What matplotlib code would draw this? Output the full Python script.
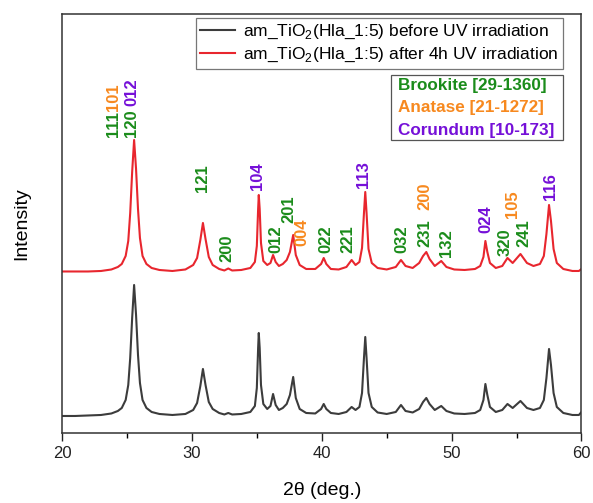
import matplotlib
matplotlib.use("Agg")
import matplotlib.pyplot as plt
from matplotlib.patches import Rectangle

plt.rcParams['font.family'] = ['Liberation Sans', 'DejaVu Sans']
plt.rcParams['mathtext.fontset'] = 'custom'
plt.rcParams['mathtext.rm'] = 'Liberation Sans'

# difractogramas (2theta, intensidad relativa)
dos_theta = [20.0, 21.0, 22.0, 23.0, 23.8, 24.3, 24.6, 24.9, 25.1, 25.25,
             25.4, 25.55, 25.7, 25.85, 26.0, 26.2, 26.5, 26.9, 27.5, 28.5,
             29.5, 30.1, 30.4, 30.65, 30.85, 31.05, 31.3, 31.6, 32.1, 32.5,
             32.8, 33.1, 33.8, 34.5, 34.85, 35.0, 35.1, 35.15, 35.22, 35.32,
             35.5, 35.8, 36.05, 36.25, 36.45, 36.7, 37.0, 37.3, 37.55, 37.8,
             38.0, 38.3, 38.8, 39.5, 39.95, 40.15, 40.35, 40.7, 41.3, 41.9,
             42.3, 42.6, 42.9, 43.1, 43.25, 43.35, 43.45, 43.6, 43.85, 44.3,
             45.0, 45.7, 46.1, 46.45, 47.0, 47.5, 47.8, 48.05, 48.3, 48.7,
             49.2, 49.6, 50.2, 51.0, 51.8, 52.2, 52.45, 52.6, 52.75, 52.95,
             53.4, 53.9, 54.3, 54.7, 55.3, 55.8, 56.3, 56.8, 57.1, 57.3,
             57.5, 57.65, 57.85, 58.1, 58.6, 59.3, 59.8, 60.0]
int_antes = [17, 17, 17.5, 18, 19.5, 22, 25, 33, 48, 75,
             115, 148, 118, 78, 50, 33, 25, 21, 19, 18,
             19, 23, 30, 47, 64, 48, 31, 24, 20, 18.5,
             20, 18.5, 19, 21, 27, 45, 85, 100, 85, 48,
             29, 24, 27, 39, 28, 23, 25, 29, 38, 56,
             35, 24, 20, 19.5, 24, 29, 24, 20, 19, 21,
             26, 23, 26, 40, 75, 96, 75, 40, 26, 20.5,
             19, 21, 28, 22, 20.5, 24, 31, 35, 29, 23,
             27, 22, 19.5, 19, 20, 23, 33, 49, 38, 26,
             21, 23, 29, 25, 32, 25, 23, 25, 33, 55,
             84, 68, 40, 26, 20, 18, 18, 21]
int_despues = [17.5, 17.5, 17.5, 18, 19.5, 22, 25, 33, 48, 76,
               117, 149, 120, 80, 51, 33, 25, 21, 19, 18,
               19.5, 24, 31, 49, 66, 50, 32, 24, 20, 18.5,
               20.5, 18.5, 19, 21, 27, 43, 80, 94, 80, 46,
               28, 24, 26, 34, 27, 23, 25, 29, 37, 54,
               34, 24, 20, 20, 25, 31, 25, 20, 19.5, 22,
               29, 24, 27, 41, 76, 97, 76, 40, 26, 21,
               19.5, 22, 29, 23, 21, 26, 33, 37, 30, 23,
               28, 22, 19.5, 19, 20, 23, 32, 48, 37, 26,
               21, 23, 31, 26, 35, 26, 23, 25, 33, 55,
               84, 68, 40, 26, 20, 18, 18, 20]
desplazamiento = 144

# indices de Miller: (texto, 2theta, altura, fase)
etiquetas = [("111", 23.95, 296, "B"), ("101", 23.95, 322, "A"),
             ("120", 25.35, 296, "B"), ("012", 25.35, 327, "C"),
             ("121", 30.85, 241, "B"), ("200", 32.7, 171, "B"),
             ("104", 35.05, 243, "C"), ("012", 36.45, 180, "B"),
             ("201", 37.45, 210, "B"), ("004", 38.45, 187, "A"),
             ("022", 40.3, 180, "B"), ("221", 42.0, 180, "B"),
             ("113", 43.2, 245, "C"), ("032", 46.2, 180, "B"),
             ("231", 47.95, 186, "B"), ("200", 47.95, 223, "A"),
             ("132", 49.6, 176, "B"), ("024", 52.6, 200, "C"),
             ("320", 54.1, 177, "B"), ("105", 54.7, 215, "A"),
             ("241", 55.6, 186, "B"), ("116", 57.6, 233, "C")]
colores = {"B": "#1b8c1b", "A": "#f7891f", "C": "#7510d8"}
fases = [("Brookite [29-1360]", "B"), ("Anatase [21-1272]", "A"), ("Corundum [10-173]", "C")]

fig = plt.figure(figsize=(5.93, 5.03), dpi=100)
ax = fig.add_axes([0.1046, 0.1392, 0.8760, 0.8330])

ax.plot(dos_theta, int_antes, color="#3c3c3c", lw=1.5,
        label=r"am_TiO$_\mathrm{2}$(Hla_1:5) before UV irradiation")
ax.plot(dos_theta, [v + desplazamiento for v in int_despues], color="#e8262e", lw=1.5,
        label=r"am_TiO$_\mathrm{2}$(Hla_1:5) after 4h UV irradiation")

for txt, x, y, f in etiquetas:
    ax.text(x, y, txt, rotation=90, ha="center", va="bottom", fontsize=12,
            fontweight="bold", color=colores[f])

ax.set_xlim(20, 60)
ax.set_ylim(0, 419)
ax.set_xticks([20, 30, 40, 50, 60])
ax.set_xticks([25, 35, 45, 55], minor=True)
ax.set_yticks([])
ax.tick_params(axis="x", which="major", length=6, width=1, direction="out", labelsize=12, colors="#222222")
ax.tick_params(axis="x", which="minor", length=3.5, width=1, direction="out")
for s in ax.spines.values():
    s.set_color("#333333")
    s.set_linewidth(1.1)
ax.set_xlabel("2\u03b8 (deg.)", fontsize=14, labelpad=15)
ax.set_ylabel("Intensity", fontsize=14, labelpad=23)

leg = ax.legend(loc="upper right", bbox_to_anchor=(0.964, 0.99), borderaxespad=0,
                fontsize=12.5, fancybox=False, edgecolor="#555555", handlelength=2.0,
                handletextpad=0.45, borderpad=0.25, labelspacing=0.3)
leg.get_frame().set_linewidth(0.9)

ax.add_patch(Rectangle((0.633, 0.699), 0.331, 0.155, transform=ax.transAxes,
                       fill=False, edgecolor="#555555", lw=0.9))
for i, (nombre, f) in enumerate(fases):
    ax.text(0.646, 0.830 - i * 0.054, nombre, transform=ax.transAxes, ha="left", va="center",
            fontsize=12.3, fontweight="bold", color=colores[f])

fig.savefig("out.png", dpi=100)
